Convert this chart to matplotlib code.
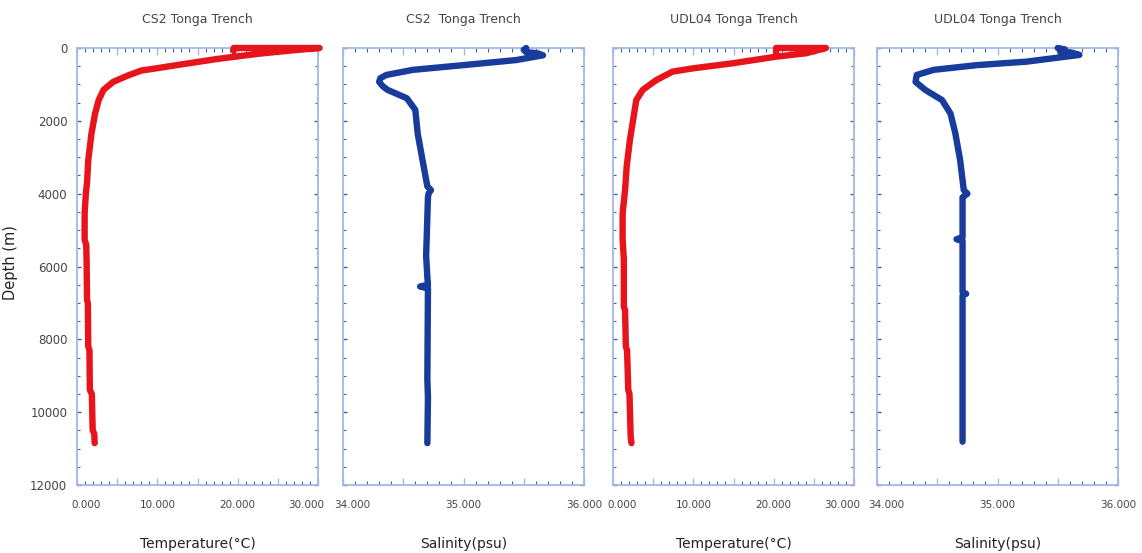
"""Temperature and salinity depth profiles, CS2 and UDL04 casts in the Tonga Trench."""
import matplotlib
matplotlib.use('Agg')
import matplotlib.pyplot as plt
from matplotlib.ticker import MultipleLocator, FuncFormatter
from matplotlib.transforms import ScaledTranslation

# CS2 cast
cs2_temp_depth = [80, 0, 0, 60, 160, 300, 450, 540, 620, 750, 930, 1150, 1430,
                  1800, 2350, 3080, 3700, 4000, 4540, 5270, 5400, 5910, 6920,
                  7000, 8200, 8300, 9390, 9500, 10490, 10600, 10850]
cs2_temp = [19.5, 19.5, 30.2, 27.0, 22.5, 17.5, 13.0, 10.4, 8.0, 6.4, 4.5, 3.3,
            2.7, 2.25, 1.8, 1.4, 1.25, 1.1, 0.95, 0.95, 1.15, 1.2, 1.25, 1.35,
            1.4, 1.55, 1.6, 1.85, 1.95, 2.15, 2.2]

cs2_sal_depth = [0, 50, 110, 150, 200, 330, 470, 600, 740, 830, 930, 1050, 1150,
                 1380, 1700, 2350, 3080, 3800, 3900, 4000, 4100, 5700, 6300,
                 6500, 6550, 6600, 9100, 9600, 10850]
cs2_sal = [35.52, 35.50, 35.52, 35.62, 35.66, 35.44, 35.00, 34.58, 34.36, 34.31,
           34.30, 34.33, 34.37, 34.53, 34.60, 34.62, 34.66, 34.70, 34.73, 34.71,
           34.705, 34.69, 34.70, 34.705, 34.64, 34.705, 34.70, 34.705, 34.70]

# UDL04 cast
udl_temp_depth = [150, 0, 0, 60, 146, 238, 420, 560, 650, 880, 1150, 1430, 1980,
                  2530, 3260, 3900, 4540, 5270, 5800, 7100, 7200, 8200, 8300,
                  9390, 9500, 10670, 10850]
udl_temp = [20.3, 20.3, 26.5, 25.5, 24.0, 20.3, 14.9, 9.9, 7.4, 5.4, 3.7, 2.9,
            2.5, 2.1, 1.7, 1.5, 1.2, 1.2, 1.35, 1.35, 1.5, 1.6, 1.75, 1.9, 2.05,
            2.2, 2.3]

udl_sal_depth = [0, 40, 100, 130, 190, 375, 470, 600, 740, 930, 1150, 1430, 1800,
                 2340, 3080, 3900, 4000, 4100, 5200, 5250, 5300, 6700, 6750, 6800,
                 9100, 9700, 10810]
udl_sal = [35.50, 35.56, 35.52, 35.62, 35.68, 35.24, 34.83, 34.47, 34.33, 34.32,
           34.40, 34.54, 34.61, 34.65, 34.69, 34.72, 34.75, 34.71, 34.71, 34.66,
           34.71, 34.71, 34.74, 34.71, 34.71, 34.71, 34.71]

titles = ['CS2 Tonga Trench', 'CS2  Tonga Trench',
          'UDL04 Tonga Trench', 'UDL04 Tonga Trench']
xlabels = ['Temperature(°C)', 'Salinity(psu)', 'Temperature(°C)', 'Salinity(psu)']

RED = '#e8141b'
BLUE = '#173c9c'
SPINE = '#a3b7e4'
TICK = '#3f5db3'
TEXT = '#444444'

fig = plt.figure(figsize=(11.42, 5.53), dpi=100)
lefts = [77, 343, 613, 877]
panels = [(cs2_temp, cs2_temp_depth, RED, 'T'),
          (cs2_sal, cs2_sal_depth, BLUE, 'S'),
          (udl_temp, udl_temp_depth, RED, 'T'),
          (udl_sal, udl_sal_depth, BLUE, 'S')]

for i, (xs, ds, color, kind) in enumerate(panels):
    ax = fig.add_axes([lefts[i] / 1142, 1 - 485 / 553, 241 / 1142, 437 / 553])
    ax.plot(xs, ds, color=color, linewidth=4.6, solid_joinstyle='round',
            solid_capstyle='round', clip_on=False, zorder=3)
    ax.set_ylim(12000, 0)
    if kind == 'T':
        ax.set_xlim(0, 30)
        ax.xaxis.set_major_locator(MultipleLocator(5))
        ax.xaxis.set_minor_locator(MultipleLocator(1))
        ax.xaxis.set_major_formatter(FuncFormatter(
            lambda v, p: f'{v:.3f}' if abs(v % 10) < 1e-6 else ''))
    else:
        ax.set_xlim(34, 36)
        ax.xaxis.set_major_locator(MultipleLocator(0.5))
        ax.xaxis.set_minor_locator(MultipleLocator(0.1))
        ax.xaxis.set_major_formatter(FuncFormatter(
            lambda v, p: f'{v:.3f}' if abs(v - round(v)) < 1e-6 else ''))
    ax.yaxis.set_major_locator(MultipleLocator(2000))
    ax.yaxis.set_minor_locator(MultipleLocator(500))

    for s in ax.spines.values():
        s.set_color(SPINE)
        s.set_linewidth(1.3)
    ax.tick_params(axis='x', which='major', direction='in', length=5, width=1,
                   color=SPINE, top=True, bottom=True, labelsize=7.5,
                   labelcolor=TEXT, pad=11)
    ax.tick_params(axis='x', which='minor', direction='in', length=3, width=0.8,
                   color=TICK, top=True, bottom=True)
    ax.tick_params(axis='y', which='major', direction='in', length=3, width=1,
                   color=TICK, left=True, right=True, labelsize=8.5,
                   labelcolor=TEXT, labelleft=(i == 0), pad=7)
    ax.tick_params(axis='y', which='minor', direction='in', length=2, width=0.8,
                   color=TICK, left=True, right=True)

    # nudge the end labels inwards as in the original software
    fig.canvas.draw()
    labels = [t for t in ax.get_xticklabels() if t.get_text()]
    labels[0].set_transform(labels[0].get_transform() +
                            ScaledTranslation(9 / 100, 0, fig.dpi_scale_trans))
    if kind == 'T':
        labels[-1].set_transform(labels[-1].get_transform() +
                                 ScaledTranslation(-12 / 100, 0, fig.dpi_scale_trans))

    ax.set_title(titles[i], fontsize=9, color=TEXT, pad=18)
    ax.set_xlabel(xlabels[i], fontsize=10, color='#222222', labelpad=19)
    if i == 0:
        ax.set_ylabel('Depth (m)', fontsize=10.5, color='#222222')
        ax.yaxis.set_label_coords(-0.245, 0.51)

fig.savefig('out.png', dpi=100)
